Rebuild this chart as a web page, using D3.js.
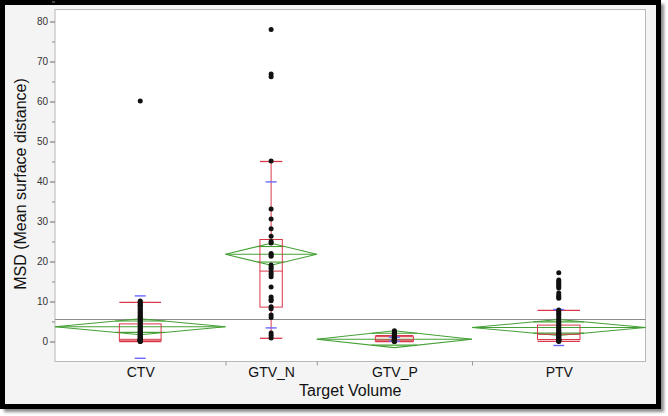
<!DOCTYPE html>
<html>
<head>
<meta charset="utf-8">
<script src="https://cdn.jsdelivr.net/npm/d3@7"></script>
<style>
  body { margin: 0; background: #fff; }
  svg { display: block; font-family: "Liberation Sans", Arial, sans-serif; }
</style>
</head>
<body>
<svg id="chart"></svg>
<script>
// data
const groups = ["CTV", "GTV_N", "GTV_P", "PTV"];
const counts = [56, 30, 51, 57];           // drives band width (JMP width ~ n)
const means = [3.7, 21.8, 0.58, 3.5];
const ciHalf = [2.0, 2.75, 2.1, 2.0];
const q1 = [0.15, 8.6, 0.1, 0.5];
const medians = [0.55, 17.6, 0.4, 1.8];
const q3 = [4.4, 25.5, 1.2, 4.1];
const whiskerLo = [0.0, 0.8, 0.0, 0.05];
const whiskerHi = [9.8, 45.0, 1.45, 7.8];
const sdLo = [-4.2, 3.4, 0.08, -1.0];
const sdHi = [11.4, 39.9, 1.08, 8.0];
const grandMean = 5.5;
const yTicks = [0, 10, 20, 30, 40, 50, 60, 70, 80];

const ctvPoints = [60.1, 10.1, 9.9, 9.6, 9.3, 9.0, 8.8, 8.4, 8.1, 7.9, 7.5, 7.2, 7.0, 6.6, 6.3, 6.1,
  5.8, 5.4, 5.1, 4.9, 4.6, 4.2, 4.0, 3.7, 3.3, 3.1, 2.8, 2.5, 2.3, 2.0, 1.8, 1.5, 1.3, 1.1,
  0.9, 0.8, 0.6, 0.5, 0.4, 0.35, 0.3, 0.25, 0.2, 0.15, 0.1, 0.05, 0.0];
const gtvNPoints = [78.0, 66.9, 66.2, 45.1, 33.1, 30.6, 28.2, 26.3, 25.0, 24.6, 22.0, 21.6, 21.3,
  19.1, 18.6, 18.2, 17.4, 16.8, 16.2, 13.6, 11.1, 10.5, 10.2, 8.7, 8.2, 6.6, 6.0, 2.1, 1.5, 0.9];
const gtvPPoints = [2.7, 2.5, 2.2, 2.0, 1.8, 1.6, 1.4, 1.2, 1.1, 1.0, 0.9, 0.8, 0.7, 0.6, 0.5,
  0.45, 0.4, 0.35, 0.3, 0.25, 0.2, 0.15, 0.1, 0.05, 0.0];
const ptvPoints = [17.2, 15.4, 15.0, 14.6, 14.2, 13.8, 13.4, 12.1, 11.5, 11.1, 10.8, 7.9, 7.5, 7.0,
  6.6, 6.1, 5.7, 5.2, 4.8, 4.4, 4.0, 3.6, 3.2, 2.9, 2.6, 2.3, 2.0, 1.8, 1.5, 1.3, 1.1, 0.9, 0.7,
  0.5, 0.4, 0.3, 0.2, 0.1, 0.0];
const points = [ctvPoints, gtvNPoints, gtvPPoints, ptvPoints];

const w = 668, h = 416;
const padL = 55, padR = 645.5, padT = 9.5, padB = 361.5;

const svg = d3.select("#chart").attr("width", w).attr("height", h);

// frame with shadow
const defs = svg.append("defs");
defs.append("filter").attr("id", "blur").append("feGaussianBlur").attr("stdDeviation", 1.5);
svg.append("rect").attr("x", 4).attr("y", 4).attr("width", 660).attr("height", 408)
  .attr("fill", "#8a8a8a").attr("filter", "url(#blur)");
svg.append("rect").attr("x", 2.5).attr("y", 2.5).attr("width", 656).attr("height", 404)
  .attr("fill", "#f4f4f4").attr("stroke", "#000").attr("stroke-width", 5);

// plot area
svg.append("rect").attr("x", padL).attr("y", padT).attr("width", padR - padL).attr("height", padB - padT)
  .attr("fill", "#fff").attr("stroke", "#b8b8b8");

const yScale = d3.scaleLinear().domain([-5, 83]).range([padB, padT]);

// x: widths proportional to counts
const cum = [0];
counts.forEach(c => cum.push(cum[cum.length - 1] + c));
const xScale = d3.scaleLinear().domain([0, cum[cum.length - 1]]).range([padL, padR]);
const bands = groups.map((g, i) => {
  const x0 = xScale(cum[i]), x1 = xScale(cum[i + 1]);
  return { g, i, x0, x1, cx: (x0 + x1) / 2, bw: x1 - x0 };
});

// grand mean line
svg.append("line").attr("x1", padL).attr("x2", padR)
  .attr("y1", yScale(grandMean)).attr("y2", yScale(grandMean))
  .attr("stroke", "#8c8c8c").attr("stroke-width", 1.2);

// means diamonds
const green = "#44a035";
const dg = svg.append("g").attr("fill", "none").attr("stroke", green).attr("stroke-width", 1.1);
bands.forEach(b => {
  const m = means[b.i], c = ciHalf[b.i];
  dg.append("path").attr("d",
    `M${b.x0},${yScale(m)} L${b.cx},${yScale(m + c)} L${b.x1},${yScale(m)} L${b.cx},${yScale(m - c)} Z`);
  dg.append("line").attr("x1", b.x0).attr("x2", b.x1).attr("y1", yScale(m)).attr("y2", yScale(m));
  const k = 1 / Math.SQRT2, half = b.bw / 2 * (1 - k);
  [m + c * k, m - c * k].forEach(v => {
    dg.append("line").attr("x1", b.cx - half).attr("x2", b.cx + half)
      .attr("y1", yScale(v)).attr("y2", yScale(v));
  });
});

// box plots
const red = "#d8394a";
const bg = svg.append("g").attr("fill", "none").attr("stroke", red).attr("stroke-width", 1);
bands.forEach(b => {
  const i = b.i, bx = b.bw * 0.245;
  bg.append("rect").attr("x", b.cx - bx / 2).attr("width", bx)
    .attr("y", yScale(q3[i])).attr("height", yScale(q1[i]) - yScale(q3[i]));
  bg.append("line").attr("x1", b.cx - bx / 2).attr("x2", b.cx + bx / 2)
    .attr("y1", yScale(medians[i])).attr("y2", yScale(medians[i]));
  bg.append("line").attr("x1", b.cx).attr("x2", b.cx)
    .attr("y1", yScale(q3[i])).attr("y2", yScale(whiskerHi[i]));
  bg.append("line").attr("x1", b.cx).attr("x2", b.cx)
    .attr("y1", yScale(q1[i])).attr("y2", yScale(whiskerLo[i]));
  [whiskerHi[i], whiskerLo[i]].forEach(v => {
    bg.append("line").attr("x1", b.cx - bx / 2).attr("x2", b.cx + bx / 2)
      .attr("y1", yScale(v)).attr("y2", yScale(v)).attr("stroke-width", 1.3);
  });
});

// std dev marks
const sg = svg.append("g").attr("stroke", "#6a6aff").attr("stroke-width", 1.4);
bands.forEach(b => {
  [sdLo[b.i], sdHi[b.i]].forEach(v => {
    sg.append("line").attr("x1", b.cx - 5.5).attr("x2", b.cx + 5.5)
      .attr("y1", yScale(v)).attr("y2", yScale(v));
  });
});

// points
bands.forEach(b => {
  svg.append("g").selectAll("circle")
    .data(points[b.i])
    .enter()
    .append("circle")
    .attr("cx", b.cx)
    .attr("cy", d => yScale(d))
    .attr("r", 2.5)
    .attr("fill", "#111");
});

// y axis
const yAxis = d3.axisLeft(yScale).tickValues(yTicks).tickSize(5).tickPadding(2);
const ya = svg.append("g").attr("transform", `translate(${padL},0)`).call(yAxis);
ya.select(".domain").remove();
ya.selectAll(".tick line").attr("stroke", "#666");
ya.selectAll("text").attr("fill", "#333")
  .style("font-family", '"Liberation Sans Narrow", "Arial Narrow", "Liberation Sans", sans-serif')
  .style("font-size", "10px");
const minor = d3.axisLeft(yScale).tickValues(yTicks.map(t => t + 5)).tickSize(3).tickFormat("");
const ym = svg.append("g").attr("transform", `translate(${padL},0)`).call(minor);
ym.select(".domain").remove();
ym.selectAll(".tick line").attr("stroke", "#888");

// x axis: band separators and category labels
const sepAxis = d3.axisBottom(xScale).tickValues(cum.slice(1, -1)).tickSize(4).tickFormat("");
const xs = svg.append("g").attr("transform", `translate(0,${padB})`).call(sepAxis);
xs.select(".domain").remove();
xs.selectAll(".tick line").attr("stroke", "#999");
const centers = counts.map((c, i) => cum[i] + c / 2);
const labAxis = d3.axisBottom(xScale).tickValues(centers).tickSize(0).tickPadding(6)
  .tickFormat((d, i) => groups[i]);
const xl = svg.append("g").attr("transform", `translate(0,${padB})`).call(labAxis);
xl.select(".domain").remove();
xl.selectAll("text").attr("fill", "#111").style("font-size", "14px")
  .style("font-family", '"Liberation Sans", Arial, sans-serif');

// titles
svg.append("text")
  .attr("x", (padL + padR) / 2).attr("y", 396)
  .attr("text-anchor", "middle").attr("fill", "#111")
  .style("font-size", "16px")
  .text("Target Volume");
svg.append("text")
  .attr("transform", "rotate(-90)")
  .attr("x", -184).attr("y", 26)
  .attr("text-anchor", "middle").attr("fill", "#111")
  .style("font-size", "16px")
  .text("MSD (Mean surface distance)");
</script>
</body>
</html>
